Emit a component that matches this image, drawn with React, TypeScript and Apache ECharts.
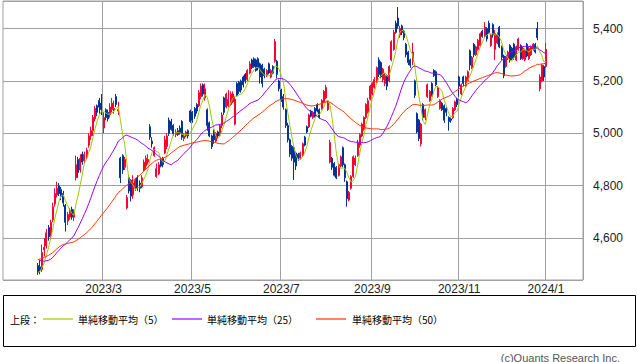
import React, { useEffect, useRef } from "react";
import * as echarts from "echarts";

// ---- data ----
const axisStart = "2022-12-20";
const axisEnd = "2024-01-30";
const dataStart = "2023-01-16";
const holidays = [
  "2023-01-02", "2023-01-03", "2023-01-09", "2023-02-23", "2023-03-21",
  "2023-05-03", "2023-05-04", "2023-05-05", "2023-07-17", "2023-09-18",
  "2023-10-09", "2023-11-03", "2023-11-23", "2024-01-01", "2024-01-02",
  "2024-01-03", "2024-01-08",
];

// closes before the first visible day (used only for the moving averages)
const priorCloses = [
  4380, 4395, 4420, 4410, 4400, 4425, 4415, 4420, 4430, 4410,
  4500, 4540, 4565, 4580, 4600, 4590, 4610, 4620, 4605, 4590,
  4600, 4615, 4600, 4590, 4605,
  4595, 4585, 4590, 4575, 4560, 4570, 4550, 4545, 4540, 4555,
  4530, 4520, 4515, 4500, 4505, 4490, 4480, 4470, 4485, 4475,
  4460, 4465, 4480, 4470,
];

// [open, close, low, high]
const ohlc = [
  [4495,4470,4460,4505],[4490,4478,4462,4515],[4480,4545,4470,4575],[4555,4565,4530,4600],[4570,4620,4560,4635],[4640,4605,4590,4650],[4610,4660,4600,4670],[4670,4720,4660,4735],[4730,4770,4720,4790],[4765,4790,4755,4815],
  [4800,4770,4760,4810],[4785,4760,4745,4795],[4770,4735,4720,4780],[4725,4660,4625,4730],[4665,4690,4650,4700],[4680,4705,4670,4715],[4710,4680,4670,4720],[4680,4700,4665,4710],[4830,4880,4820,4915],[4900,4850,4830,4910],
  [4860,4905,4850,4920],[4920,4890,4880,4930],[4895,4920,4885,4930],[4910,4935,4900,4945],[4955,4990,4945,5000],[4990,5010,4975,5025],[5010,5060,4990,5070],[5055,5095,5045,5105],[5105,5080,5065,5110],[5125,5100,5075,5135],
  [5115,5090,5070,5150],[5020,5060,5000,5080],[5090,5060,5050,5095],[5080,5055,5045,5090],[5070,5100,5060,5115],[5090,5115,5080,5135],[5085,5095,5075,5125],[5140,5110,5100,5150],[5085,5090,5070,5120],[4905,4830,4810,4910],
  [4915,4860,4845,4920],[4870,4900,4860,4910],[4715,4755,4710,4765],[4830,4780,4770,4835],[4820,4760,4740,4825],[4765,4810,4750,4840],[4790,4820,4780,4830],[4830,4790,4780,4840],[4810,4790,4775,4820],[4795,4830,4790,4840],
  [4860,4890,4855,4900],[4875,4905,4865,4915],[4890,4900,4880,4920],[5025,4985,4975,5035],[4970,4960,4945,4985],[4915,4945,4910,4950],[4835,4865,4830,4885],[4845,4880,4840,4890],[4900,4875,4870,4905],[4905,4880,4870,4910],
  [4925,4975,4920,4990],[4950,4990,4940,5000],[5050,5000,4990,5060],[5045,5015,5010,5055],[5030,4998,4990,5035],[4995,5005,4985,5015],[5010,4995,4990,5020],[5020,5000,4995,5030],[5045,4985,4975,5050],[4980,4990,4970,5000],
  [4990,5005,4985,5010],[5010,4990,4980,5015],[5085,5045,5040,5090],[5080,5050,5040,5085],[5095,5065,5055,5100],[5110,5085,5075,5115],[5105,5155,5100,5165],[5140,5180,5130,5190],[5185,5150,5140,5190],[5135,5170,5125,5190],
  [5090,5030,5010,5095],[5040,4990,4985,5045],[4990,4950,4940,4995],[5010,4975,4960,5015],[4970,5000,4965,5005],[5005,4990,4980,5010],[4995,5030,4990,5035],[5030,5070,5020,5080],[5135,5080,5070,5140],[5100,5150,5095,5155],
  [5105,5130,5100,5165],[5110,5150,5105,5160],[5120,5150,5115,5160],[5035,5130,5030,5140],[5190,5145,5140,5195],[5195,5160,5150,5200],[5200,5165,5155,5205],[5215,5185,5175,5220],[5225,5200,5190,5230],[5205,5240,5200,5245],
  [5230,5265,5225,5275],[5280,5250,5245,5285],[5285,5255,5250,5290],[5280,5240,5235,5285],[5285,5250,5240,5290],[5265,5215,5190,5270],[5260,5190,5175,5265],[5245,5220,5210,5250],[5220,5240,5215,5245],[5265,5230,5225,5270],
  [5215,5240,5210,5245],[5255,5230,5225,5260],[5275,5350,5270,5360],[5275,5225,5210,5280],[5200,5170,5160,5205],[5165,5130,5120,5170],[5140,5100,5090,5150],[5090,5030,5020,5095],[5030,4975,4965,5040],[4975,4920,4910,4980],
  [4950,4905,4895,4955],[4945,4890,4822,4950],[4925,4875,4860,4930],[4920,4905,4895,4925],[4905,4925,4900,4930],[4915,4960,4910,4965],[4985,4955,4950,4990],[5025,5005,5000,5030],[5025,5070,5020,5075],[5085,5065,5060,5090],
  [5060,5080,5055,5085],[5095,5065,5060,5100],[5110,5085,5080,5115],[5090,5060,5055,5095],[5095,5125,5090,5130],[5120,5160,5115,5165],[5135,5175,5130,5185],[5090,5115,5085,5125],[4890,4965,4885,4975],[4905,4870,4860,4910],
  [4885,4840,4835,4890],[4870,4830,4825,4875],[4840,4880,4835,4885],[4875,4910,4870,4915],[4945,4880,4870,4950],[4880,4830,4815,4885],[4815,4750,4720,4820],[4745,4775,4740,4780],[4790,4835,4785,4840],[4835,4910,4830,4915],
  [4880,4905,4875,4915],[4915,4965,4910,4975],[4955,4995,4945,5000],[4990,5035,4985,5040],[5015,5060,5010,5065],[5060,5110,5055,5115],[5080,5125,5075,5135],[5130,5180,5125,5185],[5150,5190,5145,5195],[5175,5205,5170,5215],
  [5195,5250,5190,5255],[5280,5225,5215,5290],[5270,5215,5210,5275],[5205,5245,5195,5250],[5190,5220,5180,5230],[5220,5180,5165,5225],[5200,5255,5195,5260],[5280,5350,5275,5355],[5320,5385,5315,5395],[5420,5385,5380,5430],
  [5440,5410,5400,5482],[5375,5400,5365,5410],[5410,5385,5375,5415],[5390,5365,5355,5395],[5340,5300,5290,5345],[5310,5270,5260,5315],[5280,5260,5250,5285],[5275,5310,5260,5345],[5200,5145,5135,5205],[5075,5005,5000,5080],
  [5050,4980,4970,5055],[4960,5035,4950,5040],[5110,5060,5050,5115],[5060,5090,5050,5095],[5140,5185,5135,5190],[5125,5160,5120,5165],[5190,5145,5140,5195],[5240,5220,5215,5245],[5235,5185,5180,5240],[5140,5175,5135,5180],
  [5095,5125,5090,5130],[5115,5090,5085,5120],[5105,5050,5040,5110],[5095,5080,5065,5100],[5060,5045,5010,5065],[5055,5050,5040,5060],[5060,5095,5055,5100],[5090,5120,5085,5125],[5130,5110,5100,5135],[5215,5180,5140,5220],
  [5150,5185,5145,5190],[5215,5190,5180,5220],[5180,5215,5175,5220],[5200,5235,5195,5240],[5315,5260,5240,5320],[5250,5290,5245,5295],[5340,5300,5290,5345],[5300,5330,5295,5335],[5320,5355,5315,5360],[5335,5380,5330,5385],
  [5390,5370,5365,5395],[5370,5405,5365,5425],[5400,5360,5350,5405],[5420,5385,5380,5430],[5335,5375,5330,5380],[5415,5375,5365,5420],[5320,5380,5280,5395],[5345,5375,5340,5385],[5405,5330,5325,5410],[5330,5290,5280,5335],
  [5295,5220,5210,5300],[5255,5290,5250,5295],[5285,5310,5280,5315],[5335,5280,5270,5340],[5325,5285,5280,5330],[5340,5290,5280,5345],[5280,5330,5275,5335],[5320,5360,5315,5365],[5335,5285,5280,5340],[5285,5325,5280,5330],
  [5280,5315,5275,5320],[5340,5295,5290,5345],[5285,5325,5280,5330],[5300,5330,5295,5335],[5320,5340,5315,5345],[5340,5310,5305,5345],[5400,5365,5355,5425],[5170,5215,5160,5225],[5200,5260,5195,5265],[5255,5215,5200,5260],
  [5255,5320,5250,5345],
];

const maPeriods = [5, 25, 50];
const maLabels = ["単純移動平均（5）", "単純移動平均（25）", "単純移動平均（50）"];
const legendTitle = "上段：";
const copyright = "(c)Quants Research Inc.";

// ---- styles ----
const UP = "#ff0033";
const DOWN = "#003399";
const MA_COLORS = ["#99cc00", "#9900ff", "#ff3300"];
const GRID = "#a0a0a0";
const LATIN = "'Liberation Sans', Arial, sans-serif";
const CJK = "'Noto Sans CJK JP', 'Noto Sans', sans-serif";

function tradingDays(start: string, end: string, skip: string[]) {
  const out: string[] = [];
  const d = new Date(start + "T00:00:00Z");
  const e = new Date(end + "T00:00:00Z");
  while (d <= e) {
    const wd = d.getUTCDay();
    const s = d.toISOString().slice(0, 10);
    if (wd !== 0 && wd !== 6 && skip.indexOf(s) < 0) out.push(s);
    d.setUTCDate(d.getUTCDate() + 1);
  }
  return out;
}

function movingAverage(closes: number[], n: number, from: number) {
  const res: (number | null)[] = [];
  for (let i = from; i < closes.length; i++) {
    if (i + 1 < n) { res.push(null); continue; }
    let s = 0;
    for (let k = i - n + 1; k <= i; k++) s += closes[k];
    res.push(Math.round((s / n) * 10) / 10);
  }
  return res;
}

export default function App() {
  const ref = useRef<HTMLDivElement>(null);
  useEffect(() => {
    if (!ref.current) return;
    const chart = echarts.init(ref.current, null, { renderer: "svg" });

    const categories = tradingDays(axisStart, axisEnd, holidays);
    const offset = categories.indexOf(dataStart);
    const pad = (arr: any[]) => {
      const out: any[] = new Array(categories.length).fill("-");
      arr.forEach((v, i) => { out[offset + i] = v == null ? "-" : v; });
      return out;
    };
    const closes = priorCloses.concat(ohlc.map((r) => r[1]));
    const mas = maPeriods.map((n) => pad(movingAverage(closes, n, priorCloses.length)));

    const showLabel = categories.map((c, i) => {
      if (i === 0) return false;
      if (c.slice(0, 7) === categories[i - 1].slice(0, 7)) return false;
      const m = parseInt(c.slice(5, 7), 10);
      return m % 2 === 1 && c >= "2023-03";
    });
    const fmtDate = (v: string) => `${v.slice(0, 4)}/${parseInt(v.slice(5, 7), 10)}`;

    const legendX = [
      { line: 43, text: 78 },
      { line: 172, text: 207 },
      { line: 316, text: 352 },
    ];
    const ly = 319;
    const graphic: any[] = [
      { type: "rect", silent: true, shape: { x: 3.5, y: 295.5, width: 632, height: 51 }, style: { fill: "none", stroke: "#000", lineWidth: 1 } },
      { type: "text", x: 10, y: ly, style: { text: legendTitle, fontSize: 10, fontFamily: CJK, fill: "#000", verticalAlign: "middle" } },
      { type: "text", x: 620, y: 357.5, style: { text: copyright, fontSize: 11, fontFamily: LATIN, fill: "#555", align: "right", verticalAlign: "middle" } },
    ];
    maLabels.forEach((lab, i) => {
      graphic.push({ type: "line", shape: { x1: legendX[i].line, y1: ly, x2: legendX[i].line + 30, y2: ly }, style: { stroke: MA_COLORS[i], lineWidth: 1.2 } });
      graphic.push({ type: "text", x: legendX[i].text, y: ly, style: { text: lab, fontSize: 10, fontFamily: CJK, fill: "#000", verticalAlign: "middle" } });
    });

    chart.setOption({
      animation: false,
      backgroundColor: "#fff",
      grid: { left: 3, right: 55, top: 1, bottom: 82, show: true, borderColor: GRID, borderWidth: 1 },
      xAxis: {
        type: "category",
        data: categories,
        boundaryGap: true,
        axisLine: { show: false },
        axisTick: { show: false },
        axisLabel: {
          interval: (i: number) => showLabel[i],
          formatter: fmtDate,
          fontSize: 12,
          fontFamily: LATIN,
          color: "#222",
          margin: 3,
        },
        splitLine: { show: true, interval: (i: number) => showLabel[i], lineStyle: { color: GRID, width: 1 } },
      },
      yAxis: {
        type: "value",
        position: "right",
        min: 4440,
        max: 5505,
        splitNumber: 5,
        axisLine: { show: false },
        axisTick: { show: false },
        axisLabel: {
          showMinLabel: false,
          showMaxLabel: false,
          margin: 10,
          fontSize: 12,
          fontFamily: LATIN,
          color: "#222",
          formatter: (v: number) => String(v).replace(/\B(?=(\d{3})+(?!\d))/g, ","),
        },
        splitLine: { show: true, lineStyle: { color: GRID, width: 1 } },
      },
      series: [
        {
          type: "candlestick",
          data: pad(ohlc),
          barWidth: 1.5,
          itemStyle: { color: UP, color0: DOWN, borderColor: UP, borderColor0: DOWN, borderWidth: 1 },
        },
        ...mas.map((d, i) => ({
          type: "line",
          data: d,
          symbol: "none",
          showSymbol: false,
          connectNulls: false,
          lineStyle: { width: 1, color: MA_COLORS[i] },
          itemStyle: { color: MA_COLORS[i] },
          z: 3,
        })),
      ],
      graphic,
    });
    return () => chart.dispose();
  }, []);
  return (
    <div
      ref={ref}
      style={{ position: "fixed", left: 0, top: 0, width: 638, height: 362, background: "#fff" }}
    />
  );
}
